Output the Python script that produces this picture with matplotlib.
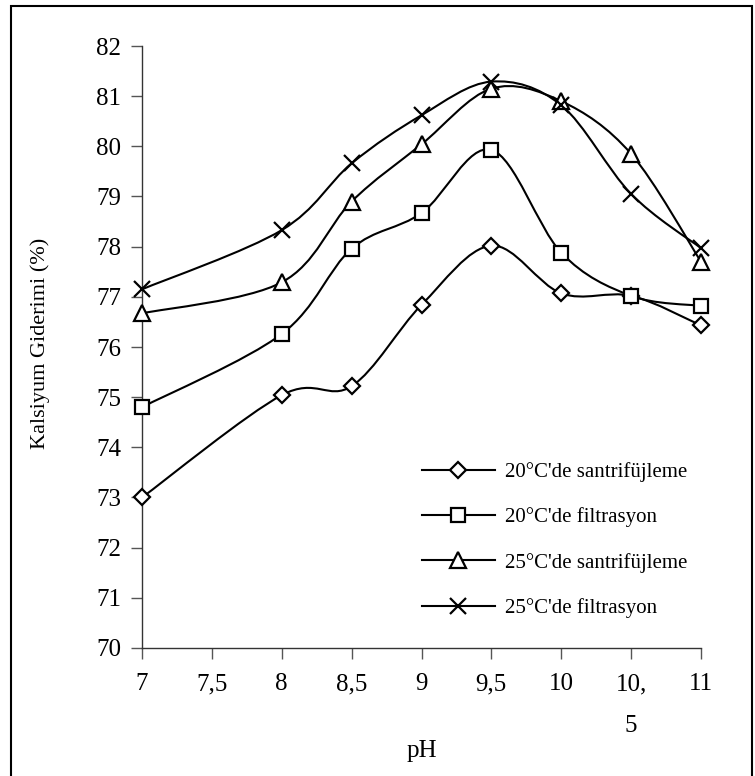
import matplotlib
matplotlib.use("Agg")
import matplotlib.pyplot as plt
from matplotlib.path import Path
from matplotlib.patches import PathPatch, Rectangle
from matplotlib.lines import Line2D
import numpy as np

plt.rcParams['font.family'] = ['Liberation Serif', 'DejaVu Serif']

# pH values with measurements
ph = [7, 8, 8.5, 9, 9.5, 10, 10.5, 11]

# Kalsiyum giderimi (%)
santrifuj_20 = [73.0, 75.04, 75.22, 76.84, 78.02, 77.07, 77.02, 76.43]
filtrasyon_20 = [74.8, 76.26, 77.96, 78.67, 79.93, 77.88, 77.02, 76.82]
santrifuj_25 = [76.67, 77.29, 78.9, 80.04, 81.15, 80.9, 79.85, 77.7]
filtrasyon_25 = [77.15, 78.33, 79.66, 80.62, 81.29, 80.82, 79.05, 77.97]

labels = ["20°C'de santrifüjleme", "20°C'de filtrasyon",
          "25°C'de santrifüjleme", "25°C'de filtrasyon"]

x_ticks = [7, 7.5, 8, 8.5, 9, 9.5, 10, 10.5, 11]
x_tick_labels = ['7', '7,5', '8', '8,5', '9', '9,5', '10', '10,\n5', '11']
y_ticks = list(range(70, 83))


def smooth_path(xs, ys):
    """Bezier path through the points (Excel style smoothed line)."""
    pts = np.column_stack([xs, ys]).astype(float)
    n = len(pts)
    verts = [pts[0]]
    codes = [Path.MOVETO]
    for i in range(n - 1):
        p0 = pts[i - 1] if i > 0 else pts[i]
        p1 = pts[i]
        p2 = pts[i + 1]
        p3 = pts[i + 2] if i + 2 < n else pts[i + 1]
        c1 = p1 + (p2 - p0) / 6.0
        c2 = p2 - (p3 - p1) / 6.0
        verts += [c1, c2, p2]
        codes += [Path.CURVE4] * 3
    return Path(verts, codes)


fig = plt.figure(figsize=(7.55, 7.76), dpi=100)
ax = fig.add_axes([142 / 755, 1 - 648 / 776, 559 / 755, 602 / 776])

series = [
    (santrifuj_20, 'D', 8),
    (filtrasyon_20, 's', 10),
    (santrifuj_25, '^', 11),
    (filtrasyon_25, 'x', 11),
]

handles = []
for (vals, marker, ms), label in zip(series, labels):
    ax.add_patch(PathPatch(smooth_path(ph, vals), facecolor='none',
                           edgecolor='black', lw=1.5, zorder=2,
                           clip_on=False))
    ax.plot(ph, vals, linestyle='none', marker=marker, ms=ms,
            mfc='white', mec='black', mew=1.6, zorder=3, clip_on=False)
    handles.append(Line2D([], [], color='black', lw=1.5, marker=marker,
                          ms=ms, mfc='white', mec='black', mew=1.6,
                          label=label))

ax.set_xlim(7, 11)
ax.set_ylim(70, 82)
ax.set_xticks(x_ticks)
ax.set_xticklabels(x_tick_labels, fontsize=18)
ax.set_yticks(y_ticks)
ax.set_yticklabels([str(v) for v in y_ticks], fontsize=18)
ax.xaxis.get_ticklabels()[7].set_linespacing(2.2)

ax.tick_params(axis='both', direction='out', length=8, width=1,
               color='#555555')
ax.tick_params(axis='x', pad=10)
ax.tick_params(axis='y', pad=7)
for side in ['top', 'right']:
    ax.spines[side].set_visible(False)
for side in ['left', 'bottom']:
    ax.spines[side].set_color('#333333')
    ax.spines[side].set_linewidth(1)

ax.set_xlabel('pH', fontsize=18, labelpad=2)
fig.text(40 / 755, 1 - 343 / 776, 'Kalsiyum Giderimi (%)', rotation=90,
         ha='center', va='center', fontsize=16)

fig.legend(handles=handles, loc='upper left',
           bbox_to_anchor=(422 / 755, 1 - 462 / 776), frameon=False,
           fontsize=15, handlelength=3.5, handletextpad=0.5,
           labelspacing=1.22, borderpad=0, borderaxespad=0)

# outer frame
fig.patches.append(Rectangle((11 / 755, -0.01), 741 / 755, 1.01 - 6 / 776,
                             transform=fig.transFigure, fill=False,
                             edgecolor='black', lw=1.5))

plt.savefig('out.png', dpi=100)
plt.close()
